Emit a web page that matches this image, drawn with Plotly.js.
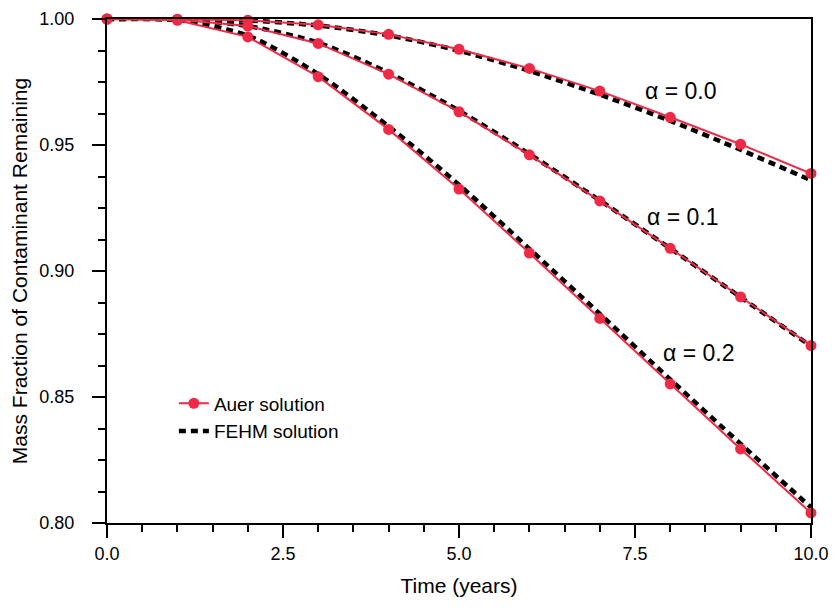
<!DOCTYPE html>
<html>
<head>
<meta charset="utf-8">
<script src="https://cdn.plot.ly/plotly-3.0.1.min.js"></script>
<style>html,body{margin:0;padding:0;background:#fff;}#chart{width:836px;height:608px;}</style>
</head>
<body>
<div id="chart"></div>
<script>
// Time (years)
const timeAuer = [0, 1, 2, 3, 4, 5, 6, 7, 8, 9, 10];
const auerA00 = [1.0, 0.9999, 0.9995, 0.9977, 0.9939, 0.9880, 0.9804, 0.9714, 0.9610, 0.9503, 0.9387];
const auerA01 = [1.0, 0.9998, 0.9972, 0.9903, 0.9781, 0.9632, 0.9461, 0.9278, 0.9090, 0.8897, 0.8704];
const auerA02 = [1.0, 0.9995, 0.9929, 0.9771, 0.9562, 0.9325, 0.9071, 0.8812, 0.8552, 0.8294, 0.8040];

const timeFEHM = [0, 1, 2, 3, 4, 5, 6, 7, 8, 9, 10];
const fehmA00 = [1.0, 0.9999, 0.9994, 0.9974, 0.9935, 0.9874, 0.9794, 0.9700, 0.9596, 0.9481, 0.9360];
const fehmA01 = [1.0, 0.9998, 0.9972, 0.9906, 0.9786, 0.9636, 0.9464, 0.9280, 0.9090, 0.8896, 0.8702];
const fehmA02 = [1.0, 0.9996, 0.9934, 0.9781, 0.9574, 0.9342, 0.9088, 0.8830, 0.8570, 0.8314, 0.8062];

const labels = ["α = 0.0", "α = 0.1", "α = 0.2"];
const labelX = [8.14, 8.18, 8.4];
const labelY = [0.9714, 0.9214, 0.8675];

const red = "rgb(238,42,70)";
const traces = [];
const fehmSets = [fehmA00, fehmA01, fehmA02];
const auerSets = [auerA00, auerA01, auerA02];
fehmSets.forEach((ys, i) => {
  traces.push({
    x: timeFEHM, y: ys, type: "scatter", mode: "lines",
    line: {color: "black", width: 4.5, dash: "7px,5px", shape: "spline", smoothing: 0.8},
    name: "FEHM solution", legendgroup: "fehm", showlegend: i === 0, legendrank: 2,
    cliponaxis: false
  });
});
auerSets.forEach((ys, i) => {
  traces.push({
    x: timeAuer, y: ys, type: "scatter", mode: "lines+markers",
    line: {color: red, width: 2},
    marker: {color: red, size: 11},
    name: "Auer solution", legendgroup: "auer", showlegend: i === 0, legendrank: 1,
    cliponaxis: false
  });
});

const layout = {
  width: 836, height: 608,
  margin: {l: 107, r: 25, t: 19, b: 85},
  paper_bgcolor: "white", plot_bgcolor: "white",
  font: {family: "Liberation Sans, Arial, sans-serif", size: 18, color: "black"},
  showlegend: true,
  legend: {x: 0.095, y: 0.275, xanchor: "left", yanchor: "top", bgcolor: "rgba(0,0,0,0)",
    font: {size: 19}, tracegroupgap: 0, itemwidth: 30},
  xaxis: {
    range: [0, 10], tick0: 0, dtick: 2.5, tickformat: ".1f",
    ticks: "outside", ticklen: 13, tickwidth: 2, tickcolor: "black",
    minor: {dtick: 0.5, ticks: "outside", ticklen: 7, tickwidth: 2, tickcolor: "black", showgrid: false},
    showline: true, linewidth: 2, linecolor: "black", mirror: true,
    showgrid: false, zeroline: false,
    tickfont: {size: 18},
    title: {text: "Time (years)", font: {size: 21}, standoff: 16}
  },
  yaxis: {
    range: [0.8, 1.0], tick0: 0.8, dtick: 0.05, tickformat: ".2f",
    ticks: "outside", ticklen: 13, tickwidth: 2, tickcolor: "black",
    minor: {dtick: 0.0125, ticks: "outside", ticklen: 7, tickwidth: 2, tickcolor: "black", showgrid: false},
    showline: true, linewidth: 2, linecolor: "black", mirror: true,
    showgrid: false, zeroline: false,
    tickfont: {size: 18}, ticklabelstandoff: 14,
    title: {text: "Mass Fraction of Contaminant Remaining", font: {size: 21}, standoff: 6}
  },
  annotations: labels.map((t, i) => ({
    x: labelX[i], y: labelY[i], xref: "x", yref: "y", text: t, showarrow: false,
    font: {size: 23, color: "black"}
  }))
};

Plotly.newPlot("chart", traces, layout, {displayModeBar: false, staticPlot: true});
</script>
</body>
</html>
